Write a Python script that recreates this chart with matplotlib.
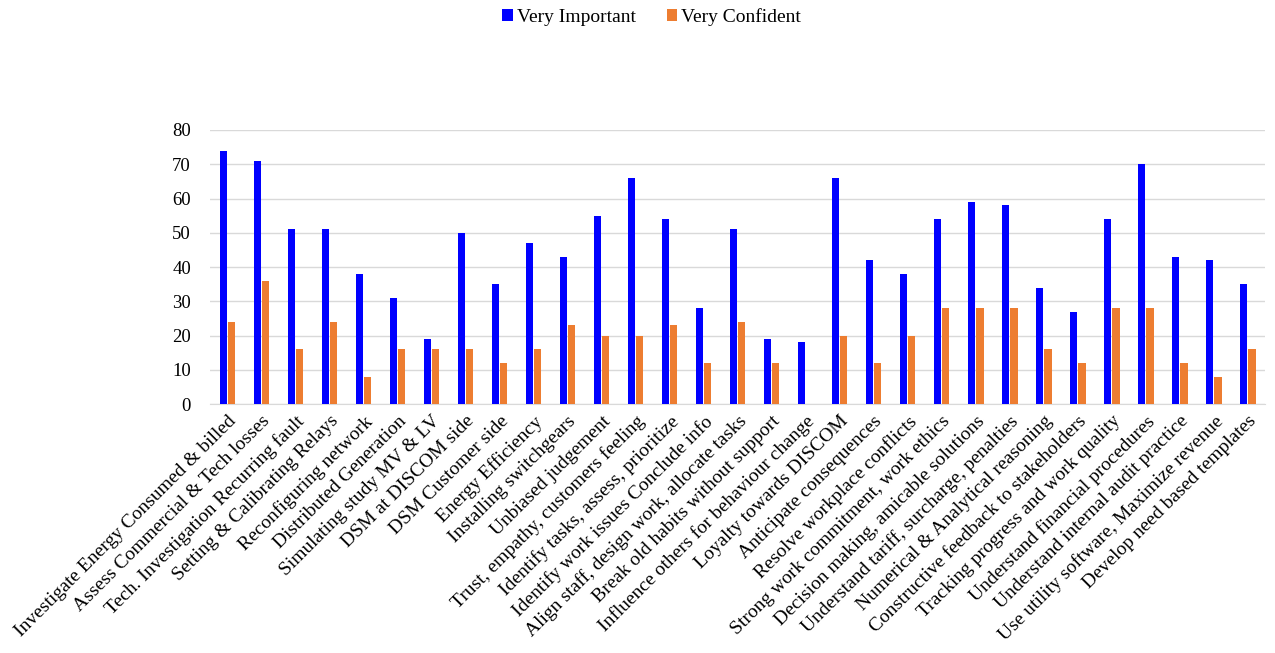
import matplotlib.pyplot as plt
import numpy as np

plt.rcParams['font.family'] = ['Liberation Serif', 'DejaVu Serif']

skills = ['Investigate Energy Consumed & billed', 'Assess Commercial & Tech losses',
          'Tech. Investigation Recurring fault', 'Setting & Calibrating Relays',
          'Reconfiguring network', 'Distributed Generation', 'Simulating study MV & LV',
          'DSM at DISCOM side', 'DSM Customer side', 'Energy Efficiency',
          'Installing switchgears', 'Unbiased judgement', 'Trust, empathy, customers feeling',
          'Identify tasks, assess, prioritize', 'Identify work issues Conclude info',
          'Align staff, design work, allocate tasks', 'Break old habits without support',
          'Influence others for behaviour change', 'Loyalty towards DISCOM',
          'Anticipate consequences', 'Resolve workplace conflicts',
          'Strong work commitment, work ethics', 'Decision making, amicable solutions',
          'Understand tariff, surcharge, penalties', 'Numerical & Analytical reasoning',
          'Constructive feedback to stakeholders', 'Tracking progress and work quality',
          'Understand financial procedures', 'Understand internal audit practice',
          'Use utility software, Maximize revenue', 'Develop need based templates']
very_important = [74, 71, 51, 51, 38, 31, 19, 50, 35, 47, 43, 55, 66, 54, 28, 51,
                  19, 18, 66, 42, 38, 54, 59, 58, 34, 27, 54, 70, 43, 42, 35]
very_confident = [24, 36, 16, 24, 8, 16, 16, 16, 12, 16, 23, 20, 20, 23, 12, 24,
                  12, 0, 20, 12, 20, 28, 28, 28, 16, 12, 28, 28, 12, 8, 16]

fig = plt.figure(figsize=(12.75, 6.53), dpi=100)
ax = fig.add_axes([0.165, 0.381, 0.827, 0.42])

x = np.arange(len(skills))
w = 0.21
ax.bar(x - 0.125, very_important, w, color='#0000ff', label='Very Important', zorder=3)
ax.bar(x + 0.125, very_confident, w, color='#ed7d31', label='Very Confident', zorder=3)

ax.set_xlim(-0.5, len(skills) - 0.5)
ax.set_ylim(0, 80)
ax.set_yticks(range(0, 81, 10))
ax.grid(axis='y', color='#d9d9d9', linewidth=1, zorder=0)
for s in ['top', 'right', 'left']:
    ax.spines[s].set_visible(False)
ax.spines['bottom'].set_color('#d9d9d9')
ax.tick_params(axis='both', length=0, colors='#000000')
ax.tick_params(axis='y', pad=14, labelsize=13.5)
ax.set_xticks(x)
ax.set_xticklabels(skills, rotation=45, ha='right', rotation_mode='anchor', fontsize=14)
ax.tick_params(axis='x', pad=6)

fig.legend(loc='upper center', bbox_to_anchor=(0.511, 1.015), ncol=2, frameon=False,
           fontsize=14, handlelength=0.55, handleheight=0.55, handletextpad=0.2,
           columnspacing=1.6)

fig.savefig('out.png', dpi=100)
